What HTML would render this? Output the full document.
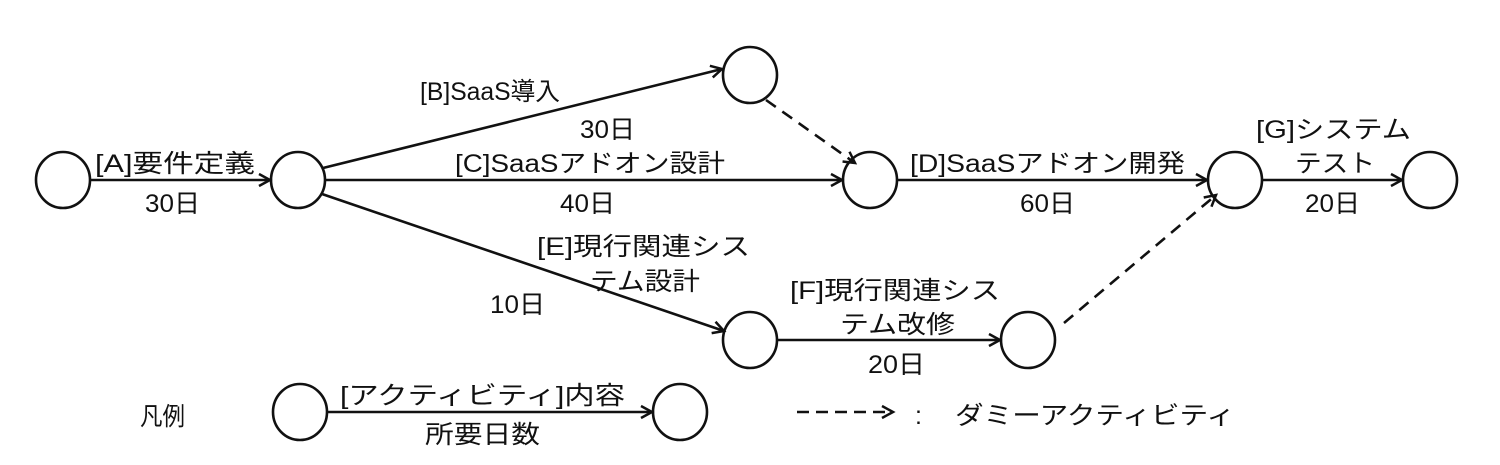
<!DOCTYPE html>
<html><head><meta charset="utf-8"><style>
html,body{margin:0;padding:0;background:#fff;}
svg{display:block;}
text{font-family:"Liberation Sans","Noto Sans CJK JP",sans-serif;font-size:25px;fill:#111;}
</style></head><body>
<svg width="1500" height="465" viewBox="0 0 1500 465" xmlns="http://www.w3.org/2000/svg">
<defs>
<marker id="ah" markerWidth="16" markerHeight="16" refX="13" refY="8" orient="auto" markerUnits="userSpaceOnUse">
<path d="M2,2 L13,8 L2,14" fill="none" stroke="#111" stroke-width="2.5"/>
</marker>
</defs>
<g fill="none" stroke="#111" stroke-width="2.6">
<ellipse cx="63" cy="180" rx="27" ry="28"/>
<ellipse cx="298" cy="180" rx="27" ry="28"/>
<ellipse cx="750" cy="75" rx="27" ry="28"/>
<ellipse cx="870" cy="180" rx="27" ry="28"/>
<ellipse cx="1235" cy="180" rx="27" ry="28"/>
<ellipse cx="1430" cy="180" rx="27" ry="28"/>
<ellipse cx="750" cy="340" rx="27" ry="28"/>
<ellipse cx="1028" cy="340" rx="27" ry="28"/>
<ellipse cx="300" cy="412" rx="27" ry="28"/>
<ellipse cx="680" cy="412" rx="27" ry="28"/>
</g>
<g stroke="#111" stroke-width="2.6" fill="none" marker-end="url(#ah)">
<line x1="90" y1="180" x2="270" y2="180"/>
<line x1="323" y1="168" x2="722" y2="69"/>
<line x1="325" y1="180" x2="842" y2="180"/>
<line x1="897" y1="180" x2="1207" y2="180"/>
<line x1="1262" y1="180" x2="1402" y2="180"/>
<line x1="322" y1="194" x2="724" y2="331"/>
<line x1="777" y1="340" x2="1000" y2="340"/>
<line x1="327" y1="412" x2="652" y2="412"/>
<line x1="766" y1="100" x2="855" y2="163" stroke-dasharray="12,8"/>
<line x1="1064" y1="323" x2="1216" y2="195" stroke-dasharray="12,8"/>
<line x1="797" y1="412" x2="893" y2="412" stroke-dasharray="12,7"/>
</g>
<text x="95" y="172" textLength="160" lengthAdjust="spacingAndGlyphs">[A]要件定義</text>
<text x="145" y="212" textLength="55" lengthAdjust="spacingAndGlyphs">30日</text>
<text x="420" y="100" textLength="140" lengthAdjust="spacingAndGlyphs">[B]SaaS導入</text>
<text x="580" y="138" textLength="55" lengthAdjust="spacingAndGlyphs">30日</text>
<text x="455" y="172" textLength="270" lengthAdjust="spacingAndGlyphs">[C]SaaSアドオン設計</text>
<text x="560" y="212" textLength="55" lengthAdjust="spacingAndGlyphs">40日</text>
<text x="537" y="255" textLength="213" lengthAdjust="spacingAndGlyphs">[E]現行関連シス</text>
<text x="590" y="290" textLength="110" lengthAdjust="spacingAndGlyphs">テム設計</text>
<text x="490" y="313" textLength="55" lengthAdjust="spacingAndGlyphs">10日</text>
<text x="910" y="172" textLength="275" lengthAdjust="spacingAndGlyphs">[D]SaaSアドオン開発</text>
<text x="1020" y="212" textLength="55" lengthAdjust="spacingAndGlyphs">60日</text>
<text x="1256" y="138" textLength="155" lengthAdjust="spacingAndGlyphs">[G]システム</text>
<text x="1295" y="172" textLength="80" lengthAdjust="spacingAndGlyphs">テスト</text>
<text x="1305" y="212" textLength="55" lengthAdjust="spacingAndGlyphs">20日</text>
<text x="790" y="299" textLength="210" lengthAdjust="spacingAndGlyphs">[F]現行関連シス</text>
<text x="840" y="333" textLength="115" lengthAdjust="spacingAndGlyphs">テム改修</text>
<text x="868" y="373" textLength="57" lengthAdjust="spacingAndGlyphs">20日</text>
<text x="140" y="425" textLength="45" lengthAdjust="spacingAndGlyphs">凡例</text>
<text x="340" y="404" textLength="285" lengthAdjust="spacingAndGlyphs">[アクティビティ]内容</text>
<text x="425" y="443" textLength="115" lengthAdjust="spacingAndGlyphs">所要日数</text>
<text x="915" y="424">:</text>
<text x="955" y="424" textLength="280" lengthAdjust="spacingAndGlyphs">ダミーアクティビティ</text>
</svg>
</body></html>
